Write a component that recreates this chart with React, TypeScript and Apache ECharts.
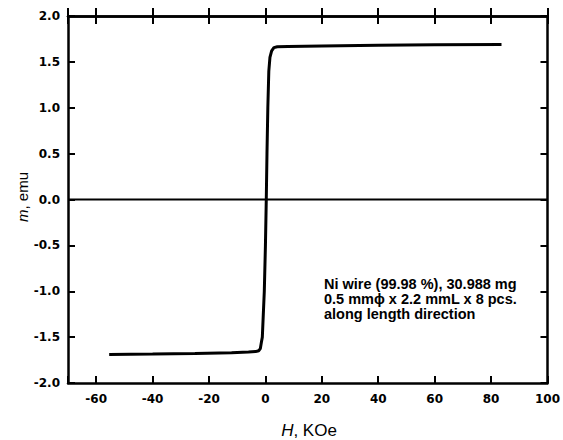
import React, { useEffect, useRef } from "react";
import * as echarts from "echarts";

const fieldH: number[] = [-55.4, -40, -25, -12, -6, -3.5, -2.4, -1.8, -1.4, -1.1, -0.4, 0.0, 0.3, 0.55, 0.85, 1.2, 1.6, 2.2, 3.0, 4.2, 8, 20, 40, 60, 83.7];
const momentM: number[] = [-1.69, -1.685, -1.678, -1.67, -1.663, -1.658, -1.648, -1.625, -1.55, -1.5, -1.0, -0.5, 0.0, 0.5, 1.0, 1.4, 1.55, 1.62, 1.655, 1.665, 1.668, 1.673, 1.68, 1.686, 1.69];
const zeroLineH: number[] = [-70, 100];
const zeroLineM: number[] = [0, 0];
const annotationLines: string[] = [
  "Ni wire (99.98 %), 30.988 mg",
  "0.5 mm\u03d5 x 2.2 mmL x 8 pcs.",
  "along length direction",
];

const FONT = "'Liberation Sans', Arial, Helvetica, sans-serif";
const TICK_FONT = "'DejaVu Sans', 'Liberation Sans', Arial, sans-serif";

export default function App() {
  const ref = useRef<HTMLDivElement>(null);
  useEffect(() => {
    if (!ref.current) return;
    const chart = echarts.init(ref.current, undefined, { renderer: "svg" });
    const lineW = 2.5;
    const axisLineStyle = { color: "#000", width: lineW };
    const xBase = {
      type: "value" as const,
      min: -70,
      max: 100,
      splitNumber: 8,
      splitLine: { show: false },
      axisLine: { show: true, onZero: false, lineStyle: axisLineStyle },
    };
    const yBase = {
      type: "value" as const,
      min: -2,
      max: 2,
      interval: 0.5,
      splitLine: { show: false },
      axisLine: { show: true, onZero: false, lineStyle: axisLineStyle },
    };
    chart.setOption({
      animation: false,
      backgroundColor: "#fff",
      grid: { left: 68, right: 12, top: 16, bottom: 57, containLabel: false },
      xAxis: [
        {
          ...xBase,
          position: "bottom",
          axisTick: { show: true, inside: true, length: 7, lineStyle: { color: "#000", width: 2 } },
          axisLabel: {
            show: true,
            margin: 10,
            color: "#000",
            fontFamily: TICK_FONT,
            fontWeight: "bold",
            fontSize: 12,
            formatter: (v: number) => (v === -70 ? "" : String(v)),
          },
        },
        {
          ...xBase,
          position: "top",
          axisTick: { show: true, inside: true, length: 8, lineStyle: { color: "#000", width: 2 } },
          axisLabel: { show: false },
        },
        {
          ...xBase,
          position: "top",
          axisTick: { show: true, inside: false, length: 8, lineStyle: { color: "#000", width: 2 } },
          axisLabel: { show: false },
        },
      ],
      yAxis: [
        {
          ...yBase,
          position: "left",
          axisTick: { show: true, inside: true, length: 7, lineStyle: { color: "#000", width: 2 } },
          axisLabel: {
            show: true,
            margin: 8,
            color: "#000",
            fontFamily: TICK_FONT,
            fontWeight: "bold",
            fontSize: 12,
            formatter: (v: number) => v.toFixed(1),
          },
        },
        {
          ...yBase,
          position: "right",
          axisTick: { show: true, inside: true, length: 7, lineStyle: { color: "#000", width: 2 } },
          axisLabel: { show: false },
        },
      ],
      series: [
        {
          type: "line",
          xAxisIndex: 0,
          yAxisIndex: 0,
          data: zeroLineH.map((h, i) => [h, zeroLineM[i]]),
          showSymbol: false,
          symbol: "none",
          lineStyle: { color: "#000", width: 2 },
          silent: true,
        },
        {
          type: "line",
          xAxisIndex: 0,
          yAxisIndex: 0,
          data: fieldH.map((h, i) => [h, momentM[i]]),
          showSymbol: false,
          symbol: "none",
          smooth: false,
          lineStyle: { color: "#000", width: 3 },
          silent: true,
        },
      ],
      graphic: [
        {
          type: "text",
          x: 324,
          y: 276,
          style: {
            text: annotationLines.join("\n"),
            fill: "#000",
            font: `bold 14.5px ${FONT}`,
            lineHeight: 15,
            verticalAlign: "top",
            align: "left",
          },
        },
        {
          type: "text",
          x: 309,
          y: 430,
          style: {
            text: "{i|H}, KOe",
            fill: "#000",
            font: `17px ${FONT}`,
            align: "center",
            verticalAlign: "middle",
            rich: {
              i: { fontStyle: "italic", fontSize: 17, fontFamily: FONT, fill: "#000" },
            },
          },
        },
        {
          type: "text",
          x: 22,
          y: 197,
          rotation: Math.PI / 2,
          style: {
            text: "{i|m}, emu",
            fill: "#000",
            font: `15px ${FONT}`,
            align: "center",
            verticalAlign: "middle",
            rich: {
              i: { fontStyle: "italic", fontSize: 15, fontFamily: FONT, fill: "#000" },
            },
          },
        },
      ],
    });
    return () => chart.dispose();
  }, []);
  return (
    <div
      ref={ref}
      style={{ position: "absolute", left: 0, top: 0, width: 563, height: 440, background: "#fff" }}
    />
  );
}
